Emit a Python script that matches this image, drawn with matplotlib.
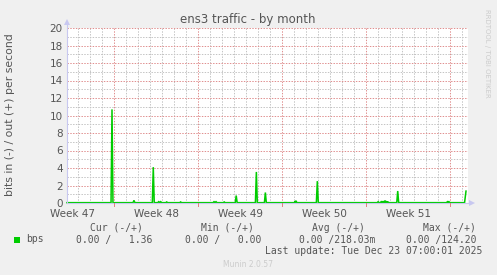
import matplotlib
matplotlib.use("Agg")
import matplotlib.pyplot as plt
from matplotlib.patches import Rectangle, Polygon

# ─────────────────────────────────────────────
# Data (x in days from left edge of graph)
# ─────────────────────────────────────────────
week_labels  = ["Week 47", "Week 48", "Week 49", "Week 50", "Week 51"]
week_starts  = [3.92, 10.92, 17.92, 24.92, 31.92]
baseline_bps = 0.04
spike_day = [3.75, 5.58, 7.19, 7.64, 7.81, 8.31, 9.47, 12.25, 12.42, 13.1, 14.1,
             15.78, 16.53, 19.0, 19.08, 20.86, 25.93, 26.2, 26.35, 26.5, 26.62, 26.75,
             27.56, 31.7, 31.83]
spike_bps = [10.7, 0.3, 4.1, 0.15, 0.15, 0.12, 0.12, 0.15, 0.15, 0.12, 0.85,
             3.55, 1.2, 0.15, 0.25, 2.5, 0.15, 0.2, 0.2, 0.28, 0.15, 0.12,
             1.37, 0.15, 0.15]
end_day = 33.25
end_bps = 1.36   # "Cur" value

legend_heads = ["Cur (-/+)", "Min (-/+)", "Avg (-/+)", "Max (-/+)"]
legend_vals  = ["0.00 /   1.36", "0.00 /   0.00", "0.00 /218.03m", "0.00 /124.20"]

# ─────────────────────────────────────────────
# Build the polyline
# ─────────────────────────────────────────────
xs, ys = [0.0], [baseline_bps]
for d, v in zip(spike_day, spike_bps):
    xs += [d - 0.08, d, d + 0.08]
    ys += [baseline_bps, v, baseline_bps]
xs += [end_day - 0.12, end_day]
ys += [baseline_bps, end_bps]

# ─────────────────────────────────────────────
# Figure
# ─────────────────────────────────────────────
W, H = 497, 275
BG     = "#F0F0F0"
TXT    = "#555555"
GREEN  = "#00CC00"
MAJOR  = "#E09090"
MINOR  = "#C4C4C4"
AXIS   = "#C8C8F0"

def fx(x): return x / W
def fy(y): return 1 - y / H

fig = plt.figure(figsize=(W / 100, H / 100), dpi=100, facecolor=BG)
left, right, top, bottom = 67, 468, 28, 203
ax = fig.add_axes([fx(left), fy(bottom), (right - left) / W, (bottom - top) / H])
ax.set_facecolor("white")
XMAX = (right - left) / 12.0
ax.set_xlim(0, XMAX)
ax.set_ylim(0, 20)

# grid (dotted)
dots = (0, (1.4, 1.4))
gkw = dict(lw=0.72, ls=dots)
for d in range(0, 34):
    x = 3.92 - 4 + d
    if 0 < x < XMAX and all(abs(x - w) > 0.01 for w in week_starts):
        ax.axvline(x, color=MINOR, zorder=1, **gkw)
for y in range(1, 20, 2):
    ax.axhline(y, color=MINOR, zorder=1, **gkw)
for w in week_starts:
    ax.axvline(w, color=MAJOR, zorder=2, **gkw)
for y in range(2, 21, 2):
    ax.axhline(y, color=MAJOR, zorder=2, **gkw)

ax.plot(xs, ys, color=GREEN, lw=1.1, zorder=5, clip_on=False, solid_joinstyle="miter")

for s in ax.spines.values():
    s.set_visible(False)
ax.set_xticks([w - 3.5 for w in week_starts])
ax.set_xticklabels(week_labels)
ax.set_yticks(range(0, 21, 2))
ax.tick_params(length=0, colors=TXT, labelsize=7.5, pad=3)
ax.tick_params(axis="x", pad=4)

# axis lines with arrows
fig.add_artist(plt.Line2D([fx(left), fx(left)], [fy(bottom), fy(24)], color=AXIS, lw=0.8))
fig.add_artist(plt.Line2D([fx(left), fx(471)], [fy(bottom), fy(bottom)], color=AXIS, lw=0.8))
fig.add_artist(Polygon([[fx(64), fy(25)], [fx(70), fy(25)], [fx(67), fy(19)]], closed=True,
                       color=AXIS, lw=0))
fig.add_artist(Polygon([[fx(469), fy(200)], [fx(469), fy(206)], [fx(475), fy(203)]], closed=True,
                       color=AXIS, lw=0))
for w in week_starts:
    xp = left + w * 12
    fig.add_artist(plt.Line2D([fx(xp), fx(xp)], [fy(203), fy(206)], color="#E08080", lw=0.7))

# texts
fig.text(fx(248), fy(19), "ens3 traffic - by month", ha="center", va="center",
         fontsize=8.5, color=TXT)
fig.text(fx(10), fy(115), "bits in (-) / out (+) per second", rotation=90,
         ha="center", va="center", fontsize=7.8, color=TXT)
fig.text(fx(487.5), fy(53), "RRDTOOL / TOBI OETIKER", rotation=-90, ha="center", va="center",
         fontsize=5, color="#CCCCCC")

mono = "DejaVu Sans Mono"
head_x = [116, 227, 338.5, 449.5]
val_right = [152, 261, 375, 476.7]
for hx, h in zip(head_x, legend_heads):
    fig.text(fx(hx), fy(228), h, ha="center", va="center", family=mono, fontsize=7, color=TXT)
for vx, v in zip(val_right, legend_vals):
    fig.text(fx(vx), fy(239.5), v, ha="right", va="center", family=mono, fontsize=7, color=TXT)
fig.add_artist(Rectangle((fx(13.5), fy(242.5)), 6 / W, 6 / H, color=GREEN, lw=0))
fig.text(fx(26.5), fy(239.5), "bps", ha="left", va="center", family=mono, fontsize=7, color=TXT)
fig.text(fx(482), fy(251), "Last update: Tue Dec 23 07:00:01 2025", ha="right", va="center",
         family=mono, fontsize=7, color=TXT)
fig.text(fx(248), fy(264.5), "Munin 2.0.57", ha="center", va="center", fontsize=5.5,
         color="#CCCCCC")

fig.savefig("out.png", dpi=100, facecolor=BG)
